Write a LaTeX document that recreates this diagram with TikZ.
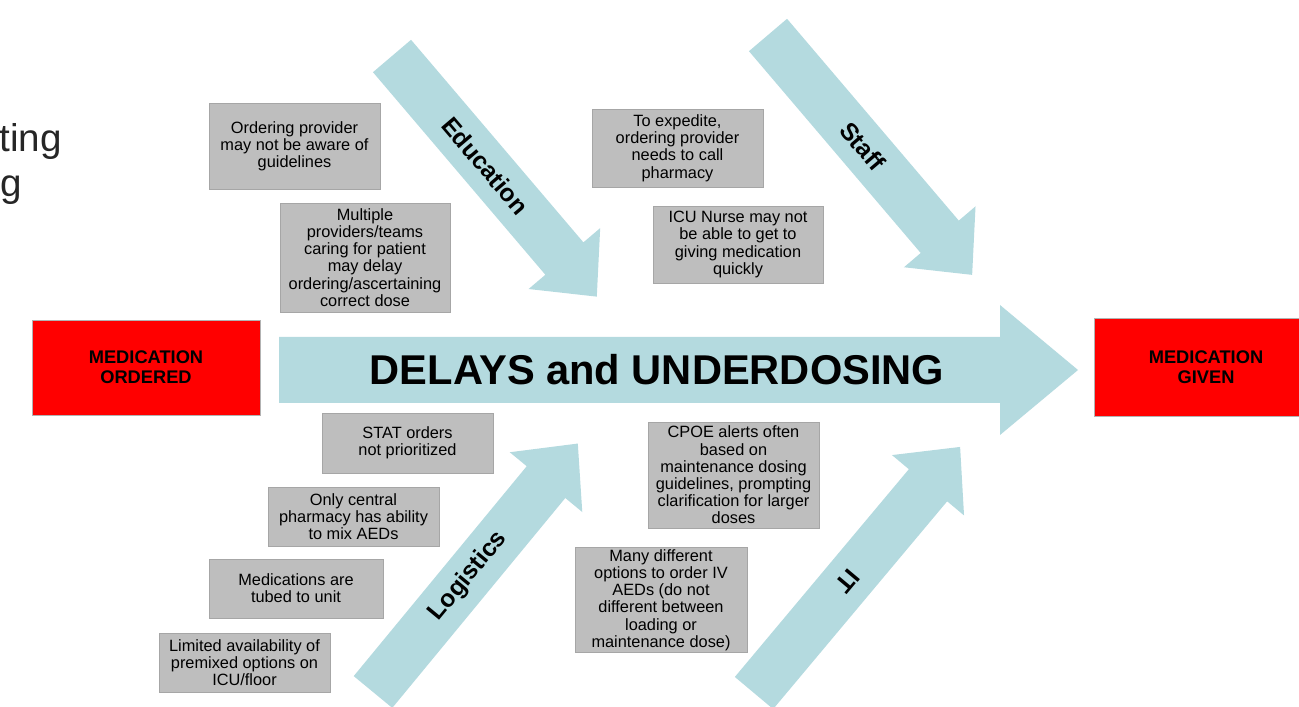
\documentclass[tikz,border=0pt]{standalone}
\usepackage{fontspec}
\setmainfont{Liberation Sans}
\definecolor{bonecol}{RGB}{180,218,223}
\definecolor{causegray}{RGB}{190,190,190}

\begin{document}
\begin{tikzpicture}[x=0.02cm, y=0.02cm,
	bone/.style={fill=bonecol},
	cause/.style={fill=causegray, draw=gray!70, line width=0.3pt, align=center, inner sep=1pt,
		font=\fontsize{9.3}{9.8}\selectfont},
	endbox/.style={fill=red, draw=gray!60, line width=0.3pt, align=center,
		font=\fontsize{10.4}{11.3}\selectfont\bfseries},
	bonelabel/.style={font=\fontsize{14}{16}\selectfont\bfseries}]
	\useasboundingbox (0,0) rectangle (1299,707);
	\clip (0,0) rectangle (1299,707);

	% clipped slide title
	\node[anchor=base east, inner sep=0, text=black!85, font=\fontsize{22}{26}\selectfont](title1) at (62,555) {ting};
	\node[anchor=base east, inner sep=0, text=black!85, font=\fontsize{22}{26}\selectfont](title2) at (22,510) {g};

	% spine
	\fill[bone] (279,370) -- (1000,370) -- (1000,402) -- (1078,337) -- (1000,272) -- (1000,304) -- (279,304) -- cycle;
	\node[font=\fontsize{23.7}{26}\selectfont\bfseries](spine) at (657,337) {DELAYS and UNDERDOSING};

	% bones
	\begin{scope}[shift={(392,651)}, rotate=-49.6]
		\fill[bone] (0,-25) -- (266,-25) -- (266,-47) -- (316,0) -- (266,47) -- (266,25) -- (0,25) -- cycle;
		\node[bonelabel, rotate=-49.6](education) at (144,0) {Education};
	\end{scope}
	\begin{scope}[shift={(768,672)}, rotate=-49.6]
		\fill[bone] (0,-25) -- (265,-25) -- (265,-47) -- (315,0) -- (265,47) -- (265,25) -- (0,25) -- cycle;
		\node[bonelabel, rotate=-49.6](staff) at (146,0) {Staff};
	\end{scope}
	\begin{scope}[shift={(373,15)}, rotate=50.5]
		\fill[bone] (0,-25) -- (272,-25) -- (272,-47) -- (322,0) -- (272,47) -- (272,25) -- (0,25) -- cycle;
		\node[bonelabel, rotate=50.5](logistics) at (150,0) {Logistics};
	\end{scope}
	\begin{scope}[shift={(754,14)}, rotate=50.05]
		\fill[bone] (0,-25) -- (271,-25) -- (271,-47) -- (321,0) -- (271,47) -- (271,25) -- (0,25) -- cycle;
		\node[bonelabel, rotate=230.05](it) at (146,0) {IT};
	\end{scope}

	% head and tail
	\node[endbox, minimum width=4.56cm, minimum height=1.9cm](ordered) at (146,339.5) {MEDICATION\\ORDERED};
	\node[endbox, minimum width=4.48cm, minimum height=1.96cm](given) at (1206,340) {MEDICATION\\GIVEN};

	% causes above
	\node[cause, minimum width=3.42cm, minimum height=1.72cm](aware) at (294.5,561) {Ordering provider\\may not be aware of\\guidelines};
	\node[cause, minimum width=3.4cm, minimum height=2.18cm](teams) at (365,449.5) {Multiple\\providers/teams\\caring for patient\\may delay\\ordering/ascertaining\\correct dose};
	\node[cause, minimum width=3.42cm, minimum height=1.56cm](expedite) at (677.5,559) {To expedite,\\ordering provider\\needs to call\\pharmacy};
	\node[cause, minimum width=3.4cm, minimum height=1.54cm](nurse) at (738,462.5) {ICU Nurse may not\\be able to get to\\giving medication\\quickly};

	% causes below
	\node[cause, minimum width=3.42cm, minimum height=1.2cm](stat) at (407.5,264) {STAT orders\\not prioritized};
	\node[cause, minimum width=3.42cm, minimum height=1.18cm](central) at (353.5,190.5) {Only central\\pharmacy has ability\\to mix AEDs};
	\node[cause, minimum width=3.48cm, minimum height=1.18cm](tubed) at (296,118.5) {Medications are\\tubed to unit};
	\node[cause, minimum width=3.42cm, minimum height=1.18cm](premixed) at (244.5,44.5) {Limited availability of\\premixed options on\\ICU/floor};
	\node[cause, minimum width=3.42cm, minimum height=2.12cm](cpoe) at (733.5,232) {CPOE alerts often\\based on\\maintenance dosing\\guidelines, prompting\\clarification for larger\\doses};
	\node[cause, minimum width=3.44cm, minimum height=2.08cm](options) at (661,107) {Many different\\options to order IV\\AEDs (do not\\different between\\loading or\\maintenance dose)};
\end{tikzpicture}
\end{document}
